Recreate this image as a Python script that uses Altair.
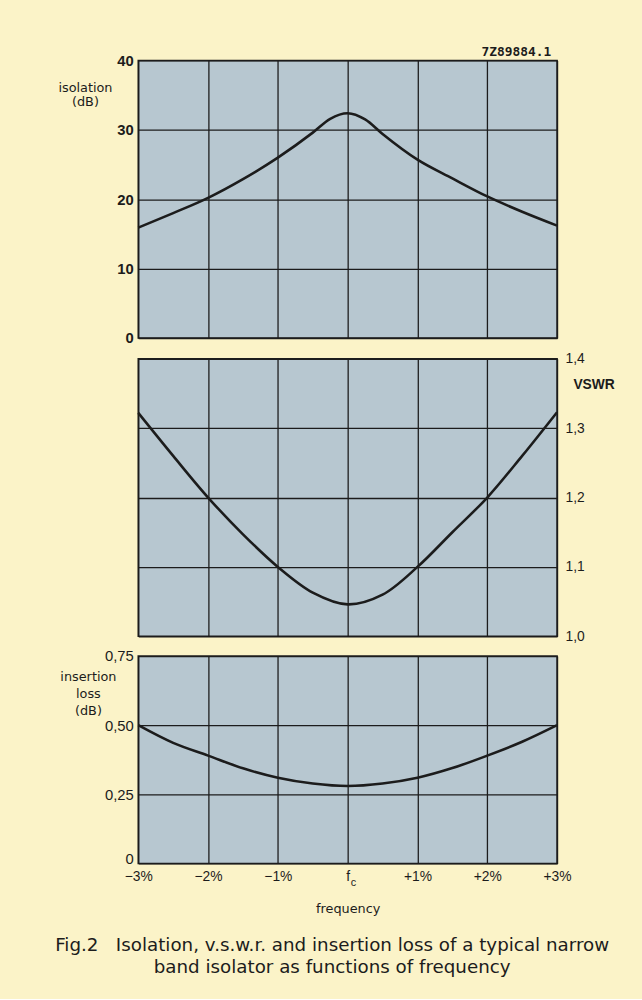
import altair as alt
import pandas as pd

# Frequency offset from the centre frequency f_c, in percent
freq_iso = [-3, -2.5, -2, -1.5, -1, -0.5, -0.25, 0, 0.25, 0.5, 1, 1.5, 2, 2.5, 3]
isolation_db = [15.9, 18.0, 20.2, 22.9, 26.0, 29.6, 31.6, 32.4, 31.5, 29.4, 25.7, 23.0, 20.4, 18.2, 16.2]

freq = [-3, -2.5, -2, -1.5, -1, -0.5, 0, 0.5, 1, 1.5, 2, 2.5, 3]
vswr = [1.322, 1.26, 1.20, 1.147, 1.10, 1.063, 1.046, 1.060, 1.10, 1.15, 1.20, 1.26, 1.323]
insertion_loss_db = [0.50, 0.436, 0.39, 0.344, 0.31, 0.289, 0.28, 0.289, 0.31, 0.345, 0.39, 0.44, 0.50]

freq_ticks = [-3, -2, -1, 0, 1, 2, 3]
isolation_ticks = [0, 10, 20, 30, 40]
vswr_ticks = [1.0, 1.1, 1.2, 1.3, 1.4]
loss_ticks = [0, 0.25, 0.5, 0.75]

drawing_code = "7Z89884.1"
caption = [
    "Fig.2\u00a0\u00a0\u00a0Isolation, v.s.w.r. and insertion loss of a typical narrow",
    "band isolator as functions of frequency",
]

PAGE = "#FBF3C8"
PANEL = "#B7C7D0"
INK = "#1C1C1C"
NUM_FONT = "Liberation Sans"
WORD_FONT = "DejaVu Sans"

W = 424
H_TOP, H_MID, H_BOT = 281, 281, 210

x_scale = alt.Scale(domain=[-3, 3], nice=False, zero=False)


def x_enc(show_labels=False):
    if show_labels:
        axis = alt.Axis(
            values=freq_ticks,
            labelExpr="datum.value == 0 ? 'f' : (datum.value > 0 ? '+' + datum.value + '%' : '\u2212' + abs(datum.value) + '%')",
            labelFontSize=14,
            labelColor=INK,
            labelPadding=6,
            labelFlush=False,
            ticks=False,
            domain=False,
            title="frequency",
            titleFont=WORD_FONT,
            titleFontSize=13,
            titleFontWeight="normal",
            titleColor=INK,
            titlePadding=20,
        )
    else:
        axis = alt.Axis(values=freq_ticks, labels=False, ticks=False, domain=False, title=None)
    return alt.X("f:Q", scale=x_scale, axis=axis)


df_iso = pd.DataFrame({"f": freq_iso, "v": isolation_db})
df_vswr = pd.DataFrame({"f": freq, "v": vswr})
df_loss = pd.DataFrame({"f": freq, "v": insertion_loss_db})

line_style = dict(color=INK, strokeWidth=2.6)

# Isolation panel
iso_line = alt.Chart(df_iso).mark_line(interpolate="monotone", **line_style).encode(
    x=x_enc(),
    y=alt.Y(
        "v:Q",
        scale=alt.Scale(domain=[0, 40], nice=False),
        axis=alt.Axis(
            values=isolation_ticks,
            ticks=False,
            domain=False,
            labelFontSize=15,
            labelFontWeight="bold",
            labelColor=INK,
            labelPadding=5,
            labelFlush=False,
            title=["isolation", "(dB)"],
            titleFont=WORD_FONT,
            titleAngle=0,
            titleX=-54,
            titleY=27,
            titleAlign="center",
            titleBaseline="middle",
            titleFontSize=13,
            titleFontWeight="normal",
            titleLineHeight=15,
            titleColor=INK,
        ),
    ),
)
code_text = alt.Chart(pd.DataFrame({"t": [drawing_code]})).mark_text(
    align="right", baseline="middle", fontSize=13, fontWeight="bold", font="DejaVu Sans Mono", color=INK
).encode(x=alt.value(W - 6), y=alt.value(-9), text="t:N")
top = alt.layer(iso_line, code_text).properties(width=W, height=H_TOP)

# VSWR panel, axis on the right
vswr_line = alt.Chart(df_vswr).mark_line(interpolate="catmull-rom", **line_style).encode(
    x=x_enc(),
    y=alt.Y(
        "v:Q",
        scale=alt.Scale(domain=[1.0, 1.4], nice=False, zero=False),
        axis=alt.Axis(
            orient="right",
            values=vswr_ticks,
            labelExpr="replace(format(datum.value, '.1f'), '.', ',')",
            ticks=False,
            domain=False,
            labelFontSize=14,
            labelColor=INK,
            labelPadding=8,
            labelFlush=False,
            title="VSWR",
            titleFont=NUM_FONT,
            titleAngle=0,
            titleX=37,
            titleY=26,
            titleAlign="center",
            titleBaseline="middle",
            titleFontSize=14,
            titleFontWeight="bold",
            titleColor=INK,
        ),
    ),
).properties(width=W, height=H_MID)

# Insertion loss panel with the frequency axis; the "0" label sits a little
# above the corner so it clears the "-3%" label
loss_line = alt.Chart(df_loss).mark_line(interpolate="catmull-rom", **line_style).encode(
    x=x_enc(True),
    y=alt.Y(
        "v:Q",
        scale=alt.Scale(domain=[0, 0.75], nice=False),
        axis=alt.Axis(
            values=loss_ticks,
            labelExpr="datum.value == 0 ? '0' : replace(format(datum.value, '.2f'), '.', ',')",
            labelOffset={"condition": {"test": "datum.value === 0", "value": -5}, "value": 0},
            ticks=False,
            domain=False,
            labelFontSize=15,
            labelColor=INK,
            labelPadding=5,
            labelFlush=False,
            title=["insertion", "loss", "(dB)"],
            titleFont=WORD_FONT,
            titleAngle=0,
            titleX=-51,
            titleY=21,
            titleAlign="center",
            titleBaseline="middle",
            titleFontSize=13,
            titleFontWeight="normal",
            titleLineHeight=17,
            titleColor=INK,
        ),
    ),
)
fc_sub = alt.Chart(pd.DataFrame({"f": [0], "t": ["c"]})).mark_text(
    align="left", baseline="middle", fontSize=11, color=INK, dx=3
).encode(x=alt.X("f:Q", scale=x_scale), y=alt.value(H_BOT + 20), text="t:N")
bottom = alt.layer(loss_line, fc_sub).properties(width=W, height=H_BOT)

chart = (
    alt.vconcat(top, vswr_line, bottom, spacing=4)
    .properties(
        title=alt.TitleParams(
            text=caption,
            orient="bottom",
            anchor="middle",
            font=WORD_FONT,
            fontSize=18.5,
            fontWeight="normal",
            color=INK,
            offset=20,
            lineHeight=22,
            dx=-4,
        ),
        padding={"left": 55, "top": 39, "right": 27, "bottom": 16},
    )
    .configure(background=PAGE, font=NUM_FONT)
    .configure_view(fill=PANEL, stroke=INK, strokeWidth=1.6)
    .configure_axis(grid=True, gridColor=INK, gridWidth=1.3, gridOpacity=1, labelFont=NUM_FONT)
)

chart.save("out.html", embed_options={"renderer": "svg", "actions": False})
